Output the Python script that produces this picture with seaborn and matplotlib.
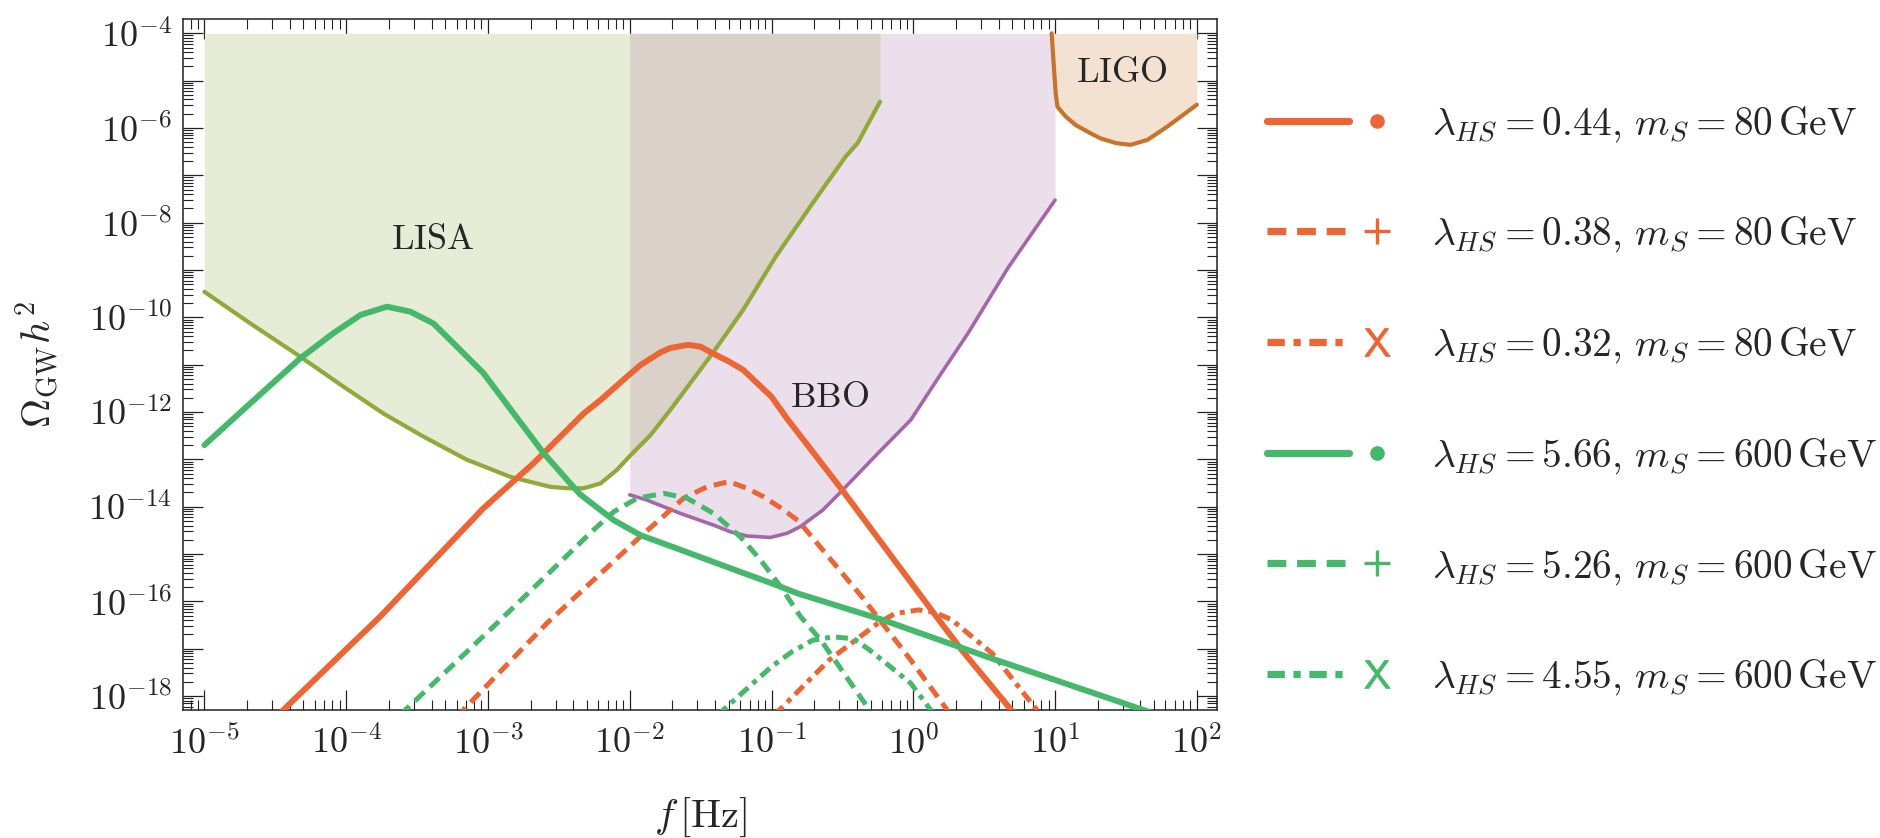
import numpy as np
import pandas as pd
import matplotlib
matplotlib.use("Agg")
import matplotlib.pyplot as plt
from matplotlib.lines import Line2D
from matplotlib.legend_handler import HandlerTuple
from matplotlib.ticker import FixedLocator, FixedFormatter, LogLocator, NullFormatter
import seaborn as sns

# ---- detector sensitivity curves ----
lisa_f = [1e-5, 2.1e-5, 4.74e-5, 9.57e-5, 1.83e-4, 3.51e-4, 7.11e-4, 1.44e-3, 2.75e-3, 3.61e-3,
          4.73e-3, 6.21e-3, 8.13e-3, 1e-2, 1.4e-2, 1.93e-2, 3.84e-2, 6.32e-2, 0.107, 0.195,
          0.332, 0.405, 0.583]
lisa_om = [3.47e-10, 7.5e-11, 1.48e-11, 3.43e-12, 9.3e-13, 3.02e-13, 9.8e-14, 4.27e-14, 2.63e-14,
           2.45e-14, 2.45e-14, 3.09e-14, 6.0e-14, 1.17e-13, 3.24e-13, 1.1e-12, 1.74e-11, 1.45e-10,
           1.9e-9, 2.57e-8, 2.45e-7, 4.8e-7, 3.6e-6]

bbo_f = [1e-2, 1.32e-2, 2.28e-2, 3.91e-2, 5.13e-2, 6.73e-2, 9.82e-2, 0.129, 0.16, 0.23, 0.31,
         0.564, 0.96, 1.52, 2.43, 4.71, 10.0]
bbo_om = [1.78e-14, 1.38e-14, 7.2e-15, 4.07e-15, 2.95e-15, 2.4e-15, 2.24e-15, 2.75e-15, 3.8e-15,
          8.5e-15, 2.09e-14, 1.35e-13, 6.8e-13, 5.6e-12, 4.6e-11, 1.17e-9, 3.0e-8]

ligo_f = [9.46, 9.77, 10.1, 10.4, 11.9, 14.0, 17.7, 21.0, 26.9, 34.0, 44.8, 61.9, 100.0]
ligo_om = [1e-4, 2.3e-5, 5.4e-6, 2.8e-6, 1.74e-6, 1.15e-6, 7.8e-7, 6.0e-7, 4.8e-7, 4.4e-7,
           5.6e-7, 1.07e-6, 3.1e-6]

# ---- GW spectra, m_S = 80 GeV ----
s80a_f = [3.31e-5, 1.74e-4, 9.3e-4, 2.1e-3, 4.73e-3, 6.21e-3, 9.57e-3, 1.2e-2, 1.67e-2, 1.93e-2,
          2.58e-2, 3.16e-2, 3.84e-2, 5.0e-2, 6.3e-2, 0.1, 0.126, 0.321, 1.43, 2.2, 5.25]
s80a_om = [3.98e-19, 4.8e-17, 9.3e-15, 8.3e-14, 9.3e-13, 1.78e-12, 5.6e-12, 1.0e-11, 1.86e-11,
           2.24e-11, 2.63e-11, 2.4e-11, 1.74e-11, 1.17e-11, 7.8e-12, 2.1e-12, 7.9e-13, 2.09e-14,
           5.1e-17, 9.3e-18, 3.98e-19]

s80b_f = [6.0e-4, 2.61e-3, 1.19e-2, 2.4e-2, 3.51e-2, 5.0e-2, 6.6e-2, 8.8e-2, 0.117, 0.155,
          0.433, 0.96, 1.86]
s80b_om = [3.6e-19, 3.47e-17, 2.34e-15, 1.51e-14, 2.63e-14, 3.39e-14, 2.5e-14, 1.62e-14, 9.3e-15,
           5.0e-15, 1.26e-16, 5.75e-18, 3.8e-19]

s80c_f = [0.105, 0.255, 0.564, 0.741, 1.09, 1.41, 1.86, 3.61, 7.94]
s80c_om = [3.98e-19, 5.75e-18, 3.47e-17, 5.5e-17, 6.6e-17, 5.9e-17, 4.1e-17, 7.9e-18, 3.98e-19]

# ---- GW spectra, m_S = 600 GeV ----
s600a_f = [1e-5, 2.1e-5, 4.74e-5, 8.1e-5, 1.26e-4, 1.94e-4, 2.83e-4, 4.13e-4, 6.04e-4, 9.3e-4,
           1.52e-3, 2.47e-3, 3.81e-3, 4.49e-3, 6.21e-3, 7.7e-3, 1.19e-2, 2.28e-2, 5.13e-2,
           0.107, 0.152, 0.603, 3.86, 42.1, 56.2]
s600a_om = [2.0e-13, 1.51e-12, 1.36e-11, 4.6e-11, 1.12e-10, 1.68e-10, 1.32e-10, 7.4e-11, 2.4e-11,
            6.6e-12, 9.3e-13, 1.35e-13, 3.1e-14, 1.8e-14, 8.5e-15, 5.2e-15, 2.5e-15, 1.23e-15,
            5.0e-16, 2.24e-16, 1.48e-16, 4.1e-17, 5.75e-18, 5.06e-19, 3.8e-19]

s600b_f = [2.4e-4, 1.16e-3, 5.56e-3, 7.7e-3, 1.13e-2, 1.74e-2, 2.54e-2, 3.91e-2, 6.0e-2, 8.4e-2,
           0.116, 0.16, 0.223, 0.525]
s600b_om = [3.98e-19, 3.47e-17, 3.24e-15, 7.8e-15, 1.51e-14, 1.91e-14, 1.51e-14, 7.2e-15,
            2.34e-15, 7.4e-16, 2.04e-16, 4.8e-17, 1.51e-17, 3.8e-19]

s600c_f = [4.17e-2, 0.1, 0.14, 0.195, 0.272, 0.38, 0.494, 0.96, 1.41]
s600c_om = [3.98e-19, 4.17e-18, 8.7e-18, 1.51e-17, 1.78e-17, 1.62e-17, 9.3e-18, 1.86e-18, 3.98e-19]

labels = [r"$\lambda_{HS} = 0.44,\, m_S = 80\,\mathrm{GeV}$",
          r"$\lambda_{HS} = 0.38,\, m_S = 80\,\mathrm{GeV}$",
          r"$\lambda_{HS} = 0.32,\, m_S = 80\,\mathrm{GeV}$",
          r"$\lambda_{HS} = 5.66,\, m_S = 600\,\mathrm{GeV}$",
          r"$\lambda_{HS} = 5.26,\, m_S = 600\,\mathrm{GeV}$",
          r"$\lambda_{HS} = 4.55,\, m_S = 600\,\mathrm{GeV}$"]

x_decades = [-5, -4, -3, -2, -1, 0, 1, 2]
y_decades = list(range(-18, -3))

ORANGE = "#ec6535"
GREEN = "#45b86b"

sns.set_theme(style="ticks")
plt.rcParams["font.family"] = ["DejaVu Serif"]
plt.rcParams["mathtext.fontset"] = "cm"

fig = plt.figure(figsize=(18.81, 8.38), dpi=100)
ax = fig.add_axes([0.0975, 0.1527, 0.5497, 0.8243])
ax.set_xscale("log")
ax.set_yscale("log")
ax.set_xlim(7.11e-6, 139.6)
ax.set_ylim(5.06e-19, 1.98e-4)

# shaded sensitivity regions
top = 1e-4
lf = np.array(lisa_f)
ax.fill_between(lf, lisa_om, top, where=lf <= 1e-2, color="#e6ecd5", lw=0, zorder=1)
ax.fill_between(bbo_f, bbo_om, top, color="#ecdfec", lw=0, zorder=1)
ax.fill_between(lf, lisa_om, top, where=lf >= 1e-2, color="#dad2c8", lw=0, zorder=1.5)
ax.fill_between(ligo_f, ligo_om, top, color="#f3e2d2", lw=0, zorder=1)

sens = [(lisa_f, lisa_om, "#8fa93a", 3.0),
        (bbo_f, bbo_om, "#a466a8", 2.6),
        (ligo_f, ligo_om, "#c8732b", 3.0)]
for f, om, c, lw in sens:
    sns.lineplot(x=f, y=om, ax=ax, color=c, lw=lw, sort=False, errorbar=None, zorder=2)

dash = (0, (2.6, 1.5))
dashdot = (0, (2.4, 1.2, 1.0, 1.2))
curves = [(s80a_f, s80a_om, ORANGE, "-", 4.3),
          (s80b_f, s80b_om, ORANGE, dash, 3.6),
          (s80c_f, s80c_om, ORANGE, dashdot, 3.6),
          (s600a_f, s600a_om, GREEN, "-", 4.3),
          (s600b_f, s600b_om, GREEN, dash, 3.6),
          (s600c_f, s600c_om, GREEN, dashdot, 3.6)]
for f, om, c, ls, lw in curves:
    sns.lineplot(x=f, y=om, ax=ax, color=c, lw=lw, linestyle=ls, sort=False,
                 errorbar=None, zorder=3)

ax.text(4.05e-4, 4.6e-9, r"$\mathrm{LISA}$", fontsize=26, ha="center", va="center")
ax.text(0.255, 2.1e-12, r"$\mathrm{BBO}$", fontsize=26, ha="center", va="center")
ax.text(29.4, 1.49e-5, r"$\mathrm{LIGO}$", fontsize=26, ha="center", va="center")

# ticks, Mathematica-style frame
ax.xaxis.set_major_locator(FixedLocator([10.0 ** e for e in x_decades]))
ax.xaxis.set_major_formatter(FixedFormatter([f"$10^{{{e}}}$" for e in x_decades]))
ax.yaxis.set_major_locator(FixedLocator([10.0 ** e for e in y_decades]))
ax.yaxis.set_major_formatter(FixedFormatter(
    [f"$10^{{{e}}}$" if e % 2 == 0 else "" for e in y_decades]))
for axis in (ax.xaxis, ax.yaxis):
    axis.set_minor_locator(LogLocator(base=10, subs=np.arange(2, 10), numticks=40))
    axis.set_minor_formatter(NullFormatter())
ax.tick_params(which="both", direction="in", top=True, right=True, color="#222222")
ax.tick_params(which="major", length=14.5, width=0.9, labelsize=26)
ax.tick_params(which="minor", length=7.2, width=0.8)
ax.tick_params(axis="x", which="major", pad=11)
ax.tick_params(axis="y", which="major", pad=8)
for s in ax.spines.values():
    s.set_linewidth(1.1)
    s.set_color("#222222")

ax.set_xlabel(r"$f\,[\mathrm{Hz}]$", fontsize=29, labelpad=25)
ax.set_ylabel(r"$\Omega_{\mathrm{GW}} h^2$", fontsize=29, labelpad=19)

# legend: line + marker per entry
markers = [dict(marker="o", markersize=9.5),
           dict(marker="+", markersize=19, markeredgewidth=2.4),
           dict(marker=r"$\mathsf{X}$", markersize=20, markeredgewidth=0.6)] * 2
handles = []
for (f, om, c, ls, lw), mk in zip(curves, markers):
    ln = Line2D([], [], color=c, lw=5.2, linestyle=ls)
    mm = Line2D([], [], color=c, linestyle="none", markeredgecolor=c, **mk)
    handles.append((ln, mm))
fig.legend(handles, labels, loc="center left", bbox_to_anchor=(0.6734, 0.522),
           frameon=False, fontsize=28.3, handlelength=3.84, handletextpad=0.37,
           labelspacing=1.8, borderpad=0, borderaxespad=0, numpoints=1,
           handler_map={tuple: HandlerTuple(ndivide=None, pad=-0.33)})

fig.savefig("out.png", dpi=100)
